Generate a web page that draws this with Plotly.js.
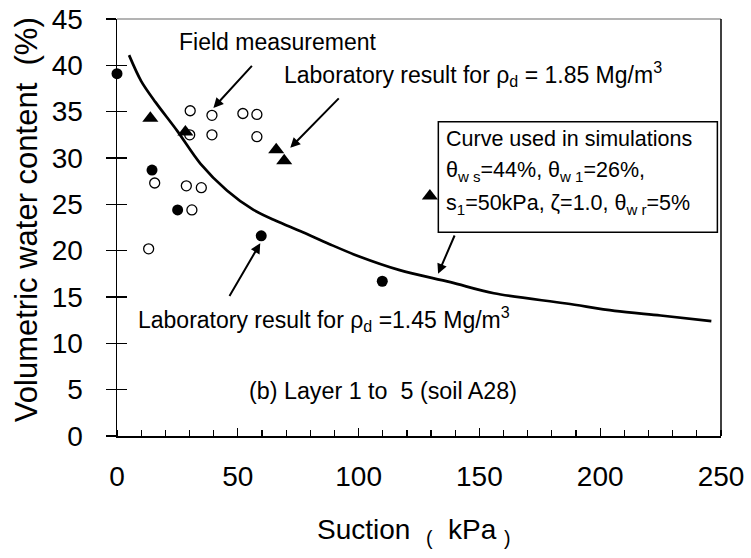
<!DOCTYPE html>
<html>
<head>
<meta charset="utf-8">
<script src="https://cdn.plot.ly/plotly-3.0.1.min.js"></script>
<style>html,body{margin:0;padding:0;background:#fff;}#chart{width:751px;height:558px;}</style>
</head>
<body>
<div id="chart"></div>
<script>
// Field measurement (open circles)
const fieldSuction = [30.3, 39.3, 52.1, 57.9, 30.1, 39.3, 57.9, 15.6, 28.7, 34.9, 31.0, 13.1];
const fieldTheta   = [35.1, 34.6, 34.8, 34.7, 32.5, 32.5, 32.3, 27.3, 27.0, 26.8, 24.4, 20.2];
// Laboratory result, rho_d = 1.45 Mg/m3 (filled circles)
const lab145Suction = [0, 14.5, 25.1, 59.7, 109.8];
const lab145Theta   = [39.1, 28.7, 24.4, 21.6, 16.7];
// Laboratory result, rho_d = 1.85 Mg/m3 (filled triangles)
const lab185Suction = [13.8, 28.3, 65.9, 69.2, 129.5];
const lab185Theta   = [34.3, 32.8, 30.9, 29.7, 25.9];
// Curve used in simulations
const curveSuction = [5, 10, 16, 25, 34.5, 45.5, 56.5, 66, 76, 88, 100, 117, 138, 156, 186, 206, 225, 246];
const curveTheta   = [41.1, 38.3, 36.0, 32.9, 29.4, 26.5, 24.4, 23.2, 22.1, 20.7, 19.4, 17.9, 16.6, 15.4, 14.3, 13.5, 13.0, 12.4];
// Axis ticks
const xTicks = [0, 50, 100, 150, 200, 250];
const yTicks = [0, 5, 10, 15, 20, 25, 30, 35, 40, 45];

const FONT = 'Arial, "Liberation Sans", sans-serif';

const traces = [
  {x: curveSuction, y: curveTheta, mode: 'lines', line: {color: '#000', width: 2.7, shape: 'spline', smoothing: 0.9}, hoverinfo: 'skip'},
  {x: fieldSuction, y: fieldTheta, mode: 'markers', yaxis: 'y2',
   marker: {symbol: 'circle', size: 10, color: '#fff', line: {color: '#000', width: 1.3}}},
  {x: lab145Suction, y: lab145Theta, mode: 'markers', xaxis: 'x2', yaxis: 'y3', cliponaxis: false,
   marker: {symbol: 'circle', size: 11, color: '#000', line: {color: '#000', width: 0}}},
  {x: lab185Suction, y: lab185Theta, mode: 'markers', xaxis: 'x2', yaxis: 'y3',
   marker: {symbol: 'triangle-up', size: 14, color: '#000', line: {color: '#000', width: 0}}}
];

const annFont = {family: FONT, size: 23, color: '#000'};
const boxFont = {family: FONT, size: 21.5, color: '#000'};
const CLEAR = 'rgba(0,0,0,0)';

const layout = {
  width: 751, height: 558,
  margin: {l: 117, r: 30, t: 19, b: 122},
  paper_bgcolor: '#fff', plot_bgcolor: '#fff',
  showlegend: false,
  font: {family: FONT, color: '#000'},
  xaxis: {
    range: [0, 250], tickvals: xTicks, ticktext: xTicks.map(String),
    ticks: 'outside', ticklen: 15, tickwidth: 1, tickcolor: CLEAR,
    minor: {dtick: 10, tick0: 0, ticks: 'inside', ticklen: 6, tickwidth: 1.2, tickcolor: '#000', showgrid: false},
    showline: true, linecolor: '#000', linewidth: 1.5,
    showgrid: false, zeroline: false,
    tickfont: {family: FONT, size: 28, color: '#000'},
    fixedrange: true
  },
  xaxis2: {
    overlaying: 'x', anchor: 'y', side: 'bottom',
    range: [0, 250], tickvals: xTicks,
    ticks: 'inside', ticklen: 8, tickwidth: 1.2, tickcolor: '#000',
    showticklabels: false, showline: false, showgrid: false, zeroline: false,
    fixedrange: true
  },
  yaxis: {
    range: [0, 45], tickvals: yTicks, ticktext: yTicks.map(String),
    ticks: 'outside', ticklen: 27, tickwidth: 1, tickcolor: CLEAR,
    showline: true, linecolor: '#000', linewidth: 1.5,
    showgrid: false, zeroline: false,
    tickfont: {family: FONT, size: 28, color: '#000'},
    fixedrange: true
  },
  yaxis2: {
    overlaying: 'y', anchor: 'x', side: 'left',
    range: [0, 45], tickvals: yTicks,
    ticks: 'inside', ticklen: 10, tickwidth: 1.2, tickcolor: '#000',
    showticklabels: false, showline: false, showgrid: false, zeroline: false,
    fixedrange: true
  },
  yaxis3: {
    overlaying: 'y', anchor: 'x', side: 'left',
    range: [0, 45], tickvals: yTicks,
    ticks: 'outside', ticklen: 10, tickwidth: 1.2, tickcolor: '#000',
    showticklabels: false, showline: false, showgrid: false, zeroline: false,
    fixedrange: true
  },
  shapes: [
    {type: 'line', xref: 'paper', yref: 'paper', x0: 0, x1: 1, y0: 1, y1: 1, line: {color: '#9a9a9a', width: 1.5}},
    {type: 'line', xref: 'paper', yref: 'paper', x0: 1, x1: 1, y0: 0, y1: 1, line: {color: '#000', width: 1.5}},
    {type: 'rect', xref: 'x', yref: 'y', x0: 133, x1: 248.5, y0: 22.0, y1: 33.9, line: {color: '#000', width: 1.5}, fillcolor: CLEAR}
  ],
  annotations: [
    // axis titles
    {x: -0.1507, y: 0.52, xref: 'paper', yref: 'paper', xanchor: 'center', yanchor: 'middle', showarrow: false,
     textangle: -90, text: 'Volumetric water content  (%)', font: {family: FONT, size: 31, color: '#000'}},
    {x: 0.491, y: -0.229, xref: 'paper', yref: 'paper', xanchor: 'center', yanchor: 'middle', showarrow: false,
     text: 'Suction&nbsp;&nbsp;<sub>(</sub>&nbsp;&nbsp;kPa&nbsp;<sub>)</sub>', font: {family: FONT, size: 28, color: '#000'}},
    // text labels
    {x: 25, y: 42.5, xref: 'x', yref: 'y', xanchor: 'left', yanchor: 'middle', showarrow: false,
     text: 'Field measurement', font: annFont},
    {x: 68.4, y: 39.1, xref: 'x', yref: 'y', xanchor: 'left', yanchor: 'middle', showarrow: false,
     text: 'Laboratory result for ρ<sub>d</sub> = 1.85 Mg/m<sup>3</sup>', font: annFont},
    {x: 8.0, y: 12.6, xref: 'x', yref: 'y', xanchor: 'left', yanchor: 'middle', showarrow: false,
     text: 'Laboratory result for ρ<sub>d</sub> =1.45 Mg/m<sup>3</sup>', font: annFont},
    {x: 53.6, y: 4.9, xref: 'x', yref: 'y', xanchor: 'left', yanchor: 'middle', showarrow: false,
     text: '(b) Layer 1 to  5 (soil A28)', font: {family: FONT, size: 23.3, color: '#000'}},
    {x: 135.3, y: 32.0, xref: 'x', yref: 'y', xanchor: 'left', yanchor: 'middle', showarrow: false,
     text: 'Curve used in simulations', font: boxFont},
    {x: 135.3, y: 28.5, xref: 'x', yref: 'y', xanchor: 'left', yanchor: 'middle', showarrow: false,
     text: 'θ<sub>w s</sub>=44%, θ<sub>w 1</sub>=26%,', font: boxFont},
    {x: 135.3, y: 25.0, xref: 'x', yref: 'y', xanchor: 'left', yanchor: 'middle', showarrow: false,
     text: 's<sub>1</sub>=50kPa, ζ=1.0, θ<sub>w r</sub>=5%', font: boxFont},
    // arrows
    {x: 39.9, y: 35.4, ax: 56.4, ay: 40.1, xref: 'x', yref: 'y', axref: 'x', ayref: 'y', text: '',
     showarrow: true, arrowhead: 2, arrowsize: 1, arrowwidth: 2, arrowcolor: '#000'},
    {x: 71.7, y: 31.1, ax: 92.4, ay: 36.6, xref: 'x', yref: 'y', axref: 'x', ayref: 'y', text: '',
     showarrow: true, arrowhead: 2, arrowsize: 1, arrowwidth: 2, arrowcolor: '#000'},
    {x: 59.3, y: 20.8, ax: 46.2, ay: 14.95, xref: 'x', yref: 'y', axref: 'x', ayref: 'y', text: '',
     showarrow: true, arrowhead: 2, arrowsize: 1, arrowwidth: 2, arrowcolor: '#000'},
    {x: 132.9, y: 17.5, ax: 140, ay: 21.8, xref: 'x', yref: 'y', axref: 'x', ayref: 'y', text: '',
     showarrow: true, arrowhead: 2, arrowsize: 1, arrowwidth: 2, arrowcolor: '#000'}
  ]
};

Plotly.newPlot('chart', traces, layout, {staticPlot: true, displayModeBar: false});
</script>
</body>
</html>
